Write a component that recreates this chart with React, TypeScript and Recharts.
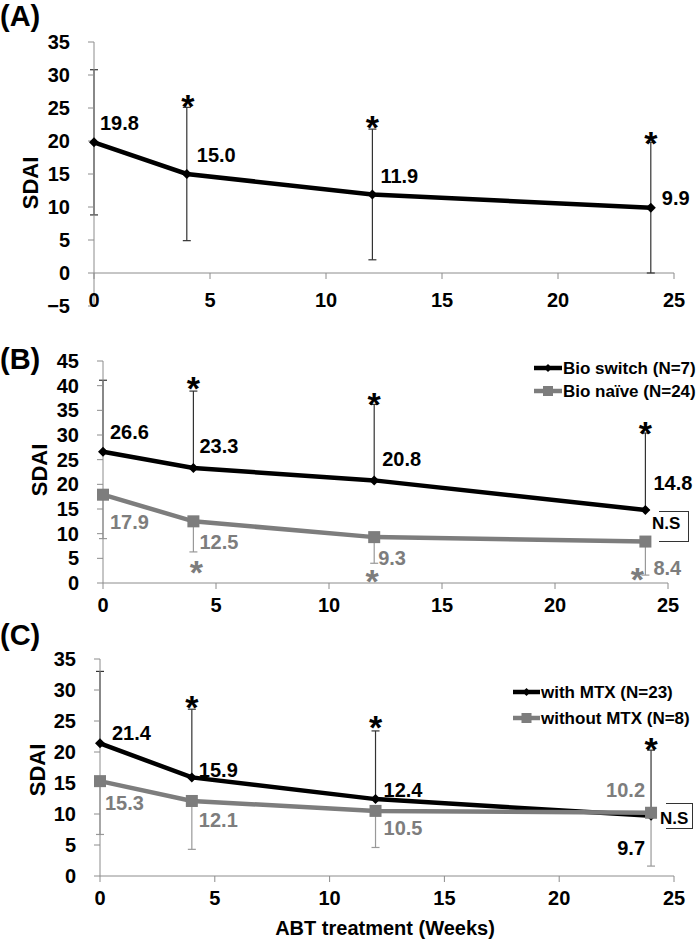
import React from 'react';
import { LineChart, Line, XAxis, YAxis, ErrorBar, LabelList, Legend, ReferenceLine, Label } from 'recharts';

const FONT = '"Liberation Sans", Arial, Helvetica, sans-serif';
const BLACK = '#000000';
const GRAY = '#7d7d7d';
const AXIS = '#8c8c8c';

// time points (weeks)
const weeks = [0, 4, 12, 24];
const xTicks = [0, 5, 10, 15, 20, 25];
const yTicksA = [-5, 0, 5, 10, 15, 20, 25, 30, 35];
const yTicksB = [0, 5, 10, 15, 20, 25, 30, 35, 40, 45];
const yTicksC = [0, 5, 10, 15, 20, 25, 30, 35];

// (A) all patients
const sdaiAll = [19.8, 15.0, 11.9, 9.9];
const sdaiAllSd = [11.0, 10.1, 9.9, 9.9];
const starAll = [false, true, true, true];

// (B) bio switch vs bio naive
const namesB = ['Bio switch (N=7)', 'Bio naïve (N=24)'];
const bioSwitch = [26.6, 23.3, 20.8, 14.8];
const bioSwitchSd = [14.5, 15.6, 15.4, 15.6];
const bioNaive = [17.9, 12.5, 9.3, 8.4];
const bioNaiveSd = [8.9, 6.2, 5.3, 6.8];
const starSwitch = [false, true, true, true];
const starNaive = [false, true, true, true];

// (C) with / without MTX
const namesC = ['with MTX (N=23)', 'without MTX (N=8)'];
const withMtx = [21.4, 15.9, 12.4, 9.7];
const withMtxSd = [11.6, 11.0, 11.0, 10.6];
const withoutMtx = [15.3, 12.1, 10.5, 10.2];
const withoutMtxSd = [8.6, 7.8, 5.9, 8.6];
const starWith = [false, true, true, true];

const dataA = weeks.map((w, i) => ({
  week: w,
  all: sdaiAll[i],
  allErr: sdaiAllSd[i],
  allStar: starAll[i] ? sdaiAll[i] + sdaiAllSd[i] : null,
}));

const dataB = weeks.map((w, i) => ({
  week: w,
  sw: bioSwitch[i],
  swErr: [0, bioSwitchSd[i]],
  swStar: starSwitch[i] ? bioSwitch[i] + bioSwitchSd[i] : null,
  nv: bioNaive[i],
  nvErr: [bioNaiveSd[i], 0],
  nvStar: starNaive[i] ? bioNaive[i] - bioNaiveSd[i] : null,
}));

const dataC = weeks.map((w, i) => ({
  week: w,
  wi: withMtx[i],
  wiErr: [0, withMtxSd[i]],
  wiStar: starWith[i] ? withMtx[i] + withMtxSd[i] : null,
  wo: withoutMtx[i],
  woErr: [withoutMtxSd[i], 0],
}));

// label placement (px, relative to the point)
type Off = { dx: number; dy: number; anchor?: 'start' | 'end' };
const labA: Off[] = [{ dx: 6, dy: -19 }, { dx: 10, dy: -19 }, { dx: 8, dy: -18 }, { dx: 11, dy: -10 }];
const labSwitch: Off[] = [{ dx: 7, dy: -20 }, { dx: 6, dy: -22 }, { dx: 8, dy: -21 }, { dx: 8, dy: -27 }];
const labNaive: Off[] = [{ dx: 7, dy: 27 }, { dx: 6, dy: 21 }, { dx: 4, dy: 21 }, { dx: 8, dy: 26 }];
const labWith: Off[] = [{ dx: 12, dy: -10 }, { dx: 7, dy: -7 }, { dx: 8, dy: -9 }, { dx: -6, dy: 32, anchor: 'end' }];
const labWithout: Off[] = [{ dx: 5, dy: 22 }, { dx: 7, dy: 19 }, { dx: 8, dy: 17 }, { dx: -6, dy: -23, anchor: 'end' }];

const starOffA = [[0, 0], [1, -8], [0, -9], [0, -6]];
const starOffSwitch = [[0, 0], [0, -10], [0, -7], [0, -7]];
const starOffNaive = [[0, 0], [3, 13], [-2, 11], [-8, -3]];
const starOffWith = [[0, 0], [0, -9], [0, -11], [0, -8]];

const boldText = { fontFamily: FONT, fontWeight: 'bold' as const };

const valueLabel = (offsets: Off[], color: string) => (props: any) => {
  const { x, y, value, index } = props;
  if (value == null) return null;
  const o = offsets[index];
  return (
    <text
      x={x + o.dx}
      y={y + o.dy}
      textAnchor={o.anchor ?? 'start'}
      dominantBaseline="central"
      fontSize={20}
      fill={color}
      {...boldText}
    >
      {Number(value).toFixed(1)}
    </text>
  );
};

const starLabel = (offsets: number[][], color: string) => (props: any) => {
  const { x, y, value, index } = props;
  if (value == null) return null;
  const o = offsets[index];
  return (
    <text x={x + o[0]} y={y + o[1] + 19} textAnchor="middle" fontSize={34} fill={color} {...boldText}>
      *
    </text>
  );
};

const diamondDot = (props: any) => {
  const { cx, cy, index } = props;
  if (cx == null || cy == null) return <g key={`d${index}`} />;
  const s = 5;
  return <path key={`d${index}`} d={`M${cx},${cy - s}L${cx + s},${cy}L${cx},${cy + s}L${cx - s},${cy}Z`} fill={BLACK} />;
};

const squareDot = (props: any) => {
  const { cx, cy, index } = props;
  if (cx == null || cy == null) return <g key={`s${index}`} />;
  return <rect key={`s${index}`} x={cx - 6} y={cy - 6} width={12} height={12} fill={GRAY} />;
};

const yTick = { fontSize: 20, fill: BLACK, ...boldText };
const minus = (v: number) => String(v).replace('-', '\u2212');

// panel A draws its x axis at y = 0, so the ticks float above the plot bottom
const floatingTick = (lineY: number, labelY: number) => (props: any) => {
  const { x, payload } = props;
  return (
    <g>
      <line x1={x} x2={x} y1={lineY} y2={lineY + 6} stroke={AXIS} />
      <text x={x} y={labelY} textAnchor="middle" dominantBaseline="central" fontSize={20} fill={BLACK} {...boldText}>
        {payload.value}
      </text>
    </g>
  );
};

const sdaiLabel = (cx: number, cy: number) => () => (
  <text
    transform={`translate(${cx},${cy}) rotate(-90)`}
    y={8}
    textAnchor="middle"
    fontSize={22}
    fill={BLACK}
    {...boldText}
  >
    SDAI
  </text>
);

const legendContent = (names: string[], rowGap: number, lineLen: number) => (props: any) => {
  const items = (props.payload || [])
    .filter((p: any) => names.includes(p.value))
    .sort((a: any, b: any) => names.indexOf(a.value) - names.indexOf(b.value));
  return (
    <svg width={200} height={60}>
      {items.map((p: any, i: number) => {
        const ry = 13 + i * rowGap;
        const mx = 4 + lineLen / 2;
        return (
          <g key={p.value}>
            <line x1={4} x2={4 + lineLen} y1={ry} y2={ry} stroke={p.color} strokeWidth={4.5} />
            {p.color === BLACK ? (
              <path d={`M${mx},${ry - 4}L${mx + 4},${ry}L${mx},${ry + 4}L${mx - 4},${ry}Z`} fill={BLACK} />
            ) : (
              <rect x={mx - 5} y={ry - 5} width={10} height={10} fill={GRAY} />
            )}
            <text x={5 + lineLen} y={ry} dominantBaseline="central" fontSize={17} fill={BLACK} {...boldText}>
              {p.value}
            </text>
          </g>
        );
      })}
    </svg>
  );
};

const panelLetter = (text: string, top: number) => (
  <div style={{ position: 'absolute', left: 0, top, fontSize: 29, lineHeight: '30px', ...boldText }}>{text}</div>
);

const nsBox = (left: number, top: number, w: number, h: number, textLeft: number, textMid: number) => (
  <>
    <div
      style={{
        position: 'absolute',
        left,
        top,
        width: w,
        height: h,
        borderTop: '1px solid #333',
        borderRight: '1px solid #333',
        borderBottom: '1px solid #333',
      }}
    />
    <div style={{ position: 'absolute', left: textLeft, top: textMid - 10, fontSize: 17, lineHeight: '20px', ...boldText }}>
      N.S
    </div>
  </>
);

const App: React.FC = () => {
  return (
    <div style={{ position: 'absolute', left: 0, top: 0, width: 700, height: 940, background: '#fff', fontFamily: FONT }}>
      {/* (A) */}
      <div style={{ position: 'absolute', left: 0, top: 0 }}>
        <LineChart width={700} height={330} data={dataA} margin={{ top: 42, right: 26, left: 0, bottom: 0 }}>
          <XAxis
            type="number"
            dataKey="week"
            domain={[0, 25]}
            ticks={xTicks}
            axisLine={false}
            tickLine={false}
            height={24}
            tick={floatingTick(273, 300)}
          />
          <YAxis
            domain={[-5, 35]}
            ticks={yTicksA}
            interval={0}
            width={94}
            stroke={AXIS}
            tickMargin={18}
            tick={yTick}
            tickFormatter={minus}
            label={<Label value="SDAI" content={sdaiLabel(30, 183)} />}
          />
          <ReferenceLine y={0} stroke={AXIS} />
          <Line dataKey="all" stroke={BLACK} strokeWidth={4.5} dot={diamondDot} activeDot={false} isAnimationActive={false}>
            <ErrorBar dataKey="allErr" direction="y" width={4} stroke="#333" strokeWidth={1.2} />
            <LabelList dataKey="all" content={valueLabel(labA, BLACK)} />
          </Line>
          <Line dataKey="allStar" stroke="none" dot={false} activeDot={false} legendType="none" isAnimationActive={false}>
            <LabelList dataKey="allStar" content={starLabel(starOffA, BLACK)} />
          </Line>
        </LineChart>
        {panelLetter('(A)', 1)}
      </div>

      {/* (B) */}
      <div style={{ position: 'absolute', left: 0, top: 330 }}>
        <LineChart width={700} height={290} data={dataB} margin={{ top: 31, right: 32, left: 0, bottom: 7 }}>
          <XAxis
            type="number"
            dataKey="week"
            domain={[0, 25]}
            ticks={xTicks}
            height={30}
            stroke={AXIS}
            tickMargin={9}
            tick={yTick}
          />
          <YAxis
            domain={[0, 45]}
            ticks={yTicksB}
            interval={0}
            width={103}
            stroke={AXIS}
            tickMargin={18}
            tick={yTick}
            label={<Label value="SDAI" content={sdaiLabel(39, 140)} />}
          />
          <Legend
            layout="vertical"
            align="center"
            verticalAlign="middle"
            wrapperStyle={{ left: 530, top: 25, width: 200, height: 60 }}
            content={legendContent(namesB, 23, 28)}
          />
          <Line
            name={namesB[0]}
            dataKey="sw"
            stroke={BLACK}
            strokeWidth={4.5}
            dot={diamondDot}
            activeDot={false}
            isAnimationActive={false}
          >
            <ErrorBar dataKey="swErr" direction="y" width={4} stroke="#333" strokeWidth={1.2} />
            <LabelList dataKey="sw" content={valueLabel(labSwitch, BLACK)} />
          </Line>
          <Line
            name={namesB[1]}
            dataKey="nv"
            stroke={GRAY}
            strokeWidth={4.5}
            dot={squareDot}
            activeDot={false}
            isAnimationActive={false}
          >
            <ErrorBar dataKey="nvErr" direction="y" width={4} stroke="#999" strokeWidth={1.2} />
            <LabelList dataKey="nv" content={valueLabel(labNaive, GRAY)} />
          </Line>
          <Line dataKey="swStar" stroke="none" dot={false} activeDot={false} legendType="none" isAnimationActive={false}>
            <LabelList dataKey="swStar" content={starLabel(starOffSwitch, BLACK)} />
          </Line>
          <Line dataKey="nvStar" stroke="none" dot={false} activeDot={false} legendType="none" isAnimationActive={false}>
            <LabelList dataKey="nvStar" content={starLabel(starOffNaive, GRAY)} />
          </Line>
        </LineChart>
        {panelLetter('(B)', 14)}
        {nsBox(659, 181, 29, 29, 652, 194)}
      </div>

      {/* (C) */}
      <div style={{ position: 'absolute', left: 0, top: 620 }}>
        <LineChart width={700} height={320} data={dataC} margin={{ top: 39, right: 26, left: 0, bottom: 0 }}>
          <XAxis
            type="number"
            dataKey="week"
            domain={[0, 25]}
            ticks={xTicks}
            height={64}
            stroke={AXIS}
            tickMargin={9}
            tick={yTick}
            label={
              <Label
                value="ABT treatment (Weeks)"
                content={() => (
                  <text x={385} y={308} textAnchor="middle" dominantBaseline="central" fontSize={20} fill={BLACK} {...boldText}>
                    ABT treatment (Weeks)
                  </text>
                )}
              />
            }
          />
          <YAxis
            domain={[0, 35]}
            ticks={yTicksC}
            interval={0}
            width={100}
            stroke={AXIS}
            tickMargin={18}
            tick={yTick}
            label={<Label value="SDAI" content={sdaiLabel(37, 150)} />}
          />
          <Legend
            layout="vertical"
            align="center"
            verticalAlign="middle"
            wrapperStyle={{ left: 509, top: 59, width: 200, height: 60 }}
            content={legendContent(namesC, 26, 27)}
          />
          <Line
            name={namesC[0]}
            dataKey="wi"
            stroke={BLACK}
            strokeWidth={4.5}
            dot={diamondDot}
            activeDot={false}
            isAnimationActive={false}
          >
            <ErrorBar dataKey="wiErr" direction="y" width={4} stroke="#333" strokeWidth={1.2} />
            <LabelList dataKey="wi" content={valueLabel(labWith, BLACK)} />
          </Line>
          <Line
            name={namesC[1]}
            dataKey="wo"
            stroke={GRAY}
            strokeWidth={4.5}
            dot={squareDot}
            activeDot={false}
            isAnimationActive={false}
          >
            <ErrorBar dataKey="woErr" direction="y" width={4} stroke="#999" strokeWidth={1.2} />
            <LabelList dataKey="wo" content={valueLabel(labWithout, GRAY)} />
          </Line>
          <Line dataKey="wiStar" stroke="none" dot={false} activeDot={false} legendType="none" isAnimationActive={false}>
            <LabelList dataKey="wiStar" content={starLabel(starOffWith, BLACK)} />
          </Line>
        </LineChart>
        {panelLetter('(C)', 0)}
        {nsBox(666, 183, 26, 24, 660, 199)}
      </div>
    </div>
  );
};

export default App;
